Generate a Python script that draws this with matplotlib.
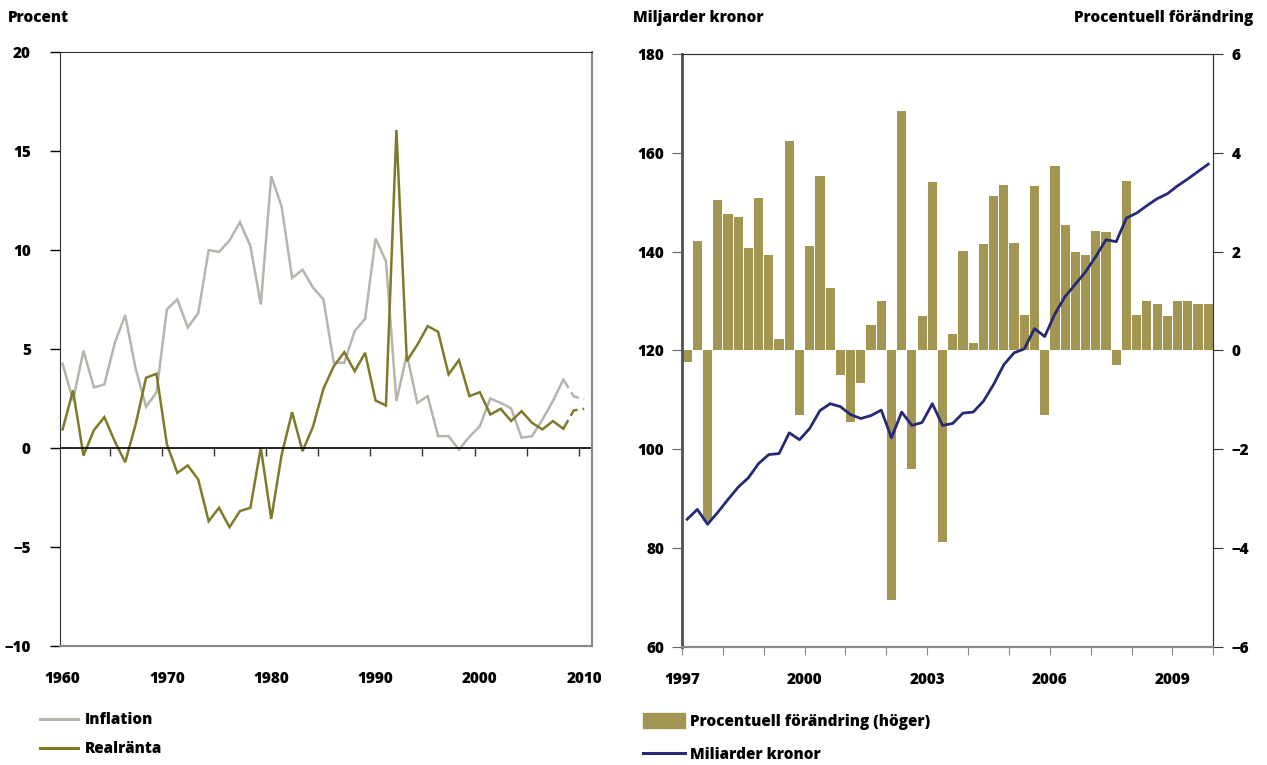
import numpy as np
import matplotlib.pyplot as plt
from matplotlib.lines import Line2D
from matplotlib.patches import Patch

plt.rcParams['font.family'] = ['Open Sans', 'DejaVu Sans']
plt.rcParams['font.weight'] = 'heavy'
plt.rcParams['font.size'] = 11

# vänster diagram: årsdata
years = np.arange(1960, 2011)
inflation = [4.25, 2.4, 4.9, 3.05, 3.2, 5.3, 6.7, 4.0, 2.07, 2.8,
             7.0, 7.5, 6.08, 6.8, 9.99, 9.9, 10.48, 11.4, 10.2, 7.24,
             13.73, 12.18, 8.58, 9.0, 8.1, 7.5, 4.3, 4.3, 5.9, 6.52,
             10.58, 9.43, 2.36, 4.72, 2.27, 2.61, 0.59, 0.59, -0.09, 0.56,
             1.09, 2.49, 2.27, 1.99, 0.51, 0.59, 1.43, 2.36, 3.45, 2.6, 2.45]
realranta = [0.93, 2.9, -0.39, 0.89, 1.55, 0.33, -0.73, 1.18, 3.54, 3.74,
             0.17, -1.27, -0.89, -1.6, -3.71, -3.03, -4.01, -3.2, -3.03, 0.0,
             -3.59, -0.34, 1.8, -0.17, 1.06, 2.98, 4.13, 4.83, 3.87, 4.8,
             2.39, 2.14, 16.06, 4.38, 5.2, 6.15, 5.86, 3.71, 4.43, 2.61,
             2.81, 1.68, 1.97, 1.35, 1.85, 1.26, 0.93, 1.35, 0.96, 1.89, 1.97]
prognos_fran = 2008  # streckat efter detta år

# höger diagram: kvartalsdata 1997-2009
kvartal = 1997 + (np.arange(52) + 0.5) / 4
forandring = [-0.24, 2.22, -3.45, 3.05, 2.76, 2.70, 2.08, 3.09, 1.94, 0.22, 4.24, -1.30,
              2.12, 3.53, 1.27, -0.49, -1.46, -0.67, 0.52, 1.0, -5.06, 4.85, -2.41, 0.70,
              3.41, -3.88, 0.34, 2.02, 0.14, 2.16, 3.13, 3.35, 2.18, 0.72, 3.33, -1.30,
              3.73, 2.54, 2.0, 1.94, 2.42, 2.40, -0.30, 3.43, 0.72, 1.0, 0.94, 0.70,
              1.0, 1.0, 0.94, 0.94]
miljarder = [85.8, 87.8, 84.8, 87.2, 89.8, 92.3, 94.2, 97.1, 98.9, 99.1, 103.3, 101.9,
             104.2, 107.8, 109.2, 108.6, 107.0, 106.2, 106.8, 107.9, 102.3, 107.5, 104.8, 105.4,
             109.2, 104.8, 105.2, 107.3, 107.5, 109.7, 113.1, 117.1, 119.5, 120.3, 124.4, 122.8,
             127.4, 130.9, 133.4, 135.9, 139.0, 142.4, 142.0, 146.8, 147.8, 149.3, 150.7, 151.7,
             153.3, 154.7, 156.2, 157.7]

GRA = '#b5b5ad'
OLIV = '#7f7a2a'
BAR = '#a39552'
BLA = '#262a75'

W, H = 1267, 765
fig = plt.figure(figsize=(W / 100, H / 100), dpi=100)

# ---------- vänster ----------
ax1 = fig.add_axes([60 / W, 1 - 645.7 / H, 532 / W, (645.7 - 52) / H])
yrs = np.array(years)
inf = np.array(inflation)
rr = np.array(realranta)
s = yrs <= prognos_fran
p = yrs >= prognos_fran
ax1.plot(yrs[s], inf[s], color=GRA, lw=1.8, solid_joinstyle='miter')
ax1.plot(yrs[p], inf[p], color=GRA, lw=1.8, linestyle=(0, (4, 2)))
ax1.plot(yrs[s], rr[s], color=OLIV, lw=1.8, solid_joinstyle='miter')
ax1.plot(yrs[p], rr[p], color=OLIV, lw=1.8, linestyle=(0, (4, 2)))
ax1.axhline(0, color='black', lw=1.2)

ax1.set_xlim(1959.75, 2010.75)
ax1.set_ylim(-10, 20)
ax1.set_yticks([-10, -5, 0, 5, 10, 15, 20])
ax1.set_yticklabels(['\u221210', '\u22125', '0', '5', '10', '15', '20'])
ax1.tick_params(axis='y', direction='out', length=7, width=1, pad=14)
ax1.set_xticks(range(1960, 2011, 10))
ax1.tick_params(axis='x', length=0, pad=18.5)
for sp in ax1.spines.values():
    sp.set_color('#333333')
ax1.spines['right'].set_color('#888888')
ax1.spines['right'].set_linewidth(1.5)
ax1.spines['bottom'].set_color('#888888')
ax1.spines['bottom'].set_linewidth(1.5)

# tickar på nollinjen
sec = ax1.secondary_xaxis(1 / 3)
sec.set_xticks(np.arange(1964.5, 2010, 5))
sec.set_xticklabels([])
sec.tick_params(direction='out', length=6, width=1, color='#333333')
sec.spines['bottom'].set_visible(False)

fig.text(8 / W, 1 - 18 / H, 'Procent', ha='left', va='center', fontsize=11)

ax1.legend(handles=[Line2D([], [], color=GRA, lw=2.2, label='Inflation'),
                    Line2D([], [], color=OLIV, lw=2.2, label='Realränta')],
           loc='upper left', bbox_to_anchor=(40 / W, 1 - 712 / H),
           bbox_transform=fig.transFigure, frameon=False, handlelength=2.5,
           handletextpad=0.45, labelspacing=0.85, borderaxespad=0, borderpad=0)

# ---------- höger ----------
ax2 = fig.add_axes([682 / W, 1 - 646.7 / H, 531.3 / W, (646.7 - 54) / H])
ax2r = ax2.twinx()
ax2r.bar(kvartal, forandring, width=0.225, color=BAR, zorder=1)
ax2.plot(kvartal, miljarder, color=BLA, lw=2.0, zorder=3)
ax2.set_zorder(ax2r.get_zorder() + 1)
ax2.patch.set_visible(False)

ax2.set_xlim(1997, 2010)
ax2.set_ylim(60, 180)
ax2r.set_ylim(-6, 6)
ax2.set_yticks(range(60, 181, 20))
ax2r.set_yticks(range(-6, 7, 2))
ax2r.set_yticklabels(['\u22126', '\u22124', '\u22122', '0', '2', '4', '6'])
ax2.set_xticks(range(1997, 2011))
ax2.set_xticklabels([str(y) if (y - 1997) % 3 == 0 else '' for y in range(1997, 2011)])
ax2.tick_params(axis='x', direction='out', length=6, color='#888888', pad=12.5)
ax2.tick_params(axis='y', direction='out', length=7, color='#666666', pad=6)
ax2r.tick_params(axis='y', direction='out', length=7, color='#333333', pad=6)
for a in (ax2, ax2r):
    for sp in a.spines.values():
        sp.set_color('#333333')
    a.spines['left'].set_color('#555555')
    a.spines['left'].set_linewidth(1.8)
    a.spines['bottom'].set_color('#888888')
    a.spines['bottom'].set_linewidth(1.5)

fig.text(633 / W, 1 - 18 / H, 'Miljarder kronor', ha='left', va='center', fontsize=11)
fig.text(1253 / W, 1 - 18 / H, 'Procentuell förändring', ha='right', va='center', fontsize=11)

ax2.legend(handles=[Patch(color=BAR, label='Procentuell förändring (höger)'),
                    Line2D([], [], color=BLA, lw=2.2, label='Miliarder kronor')],
           loc='upper left', bbox_to_anchor=(643 / W, 1 - 713 / H),
           bbox_transform=fig.transFigure, frameon=False, handlelength=2.75,
           handleheight=1.1, handletextpad=0.35, labelspacing=1.1,
           borderaxespad=0, borderpad=0)

plt.savefig('out.png', dpi=100)
